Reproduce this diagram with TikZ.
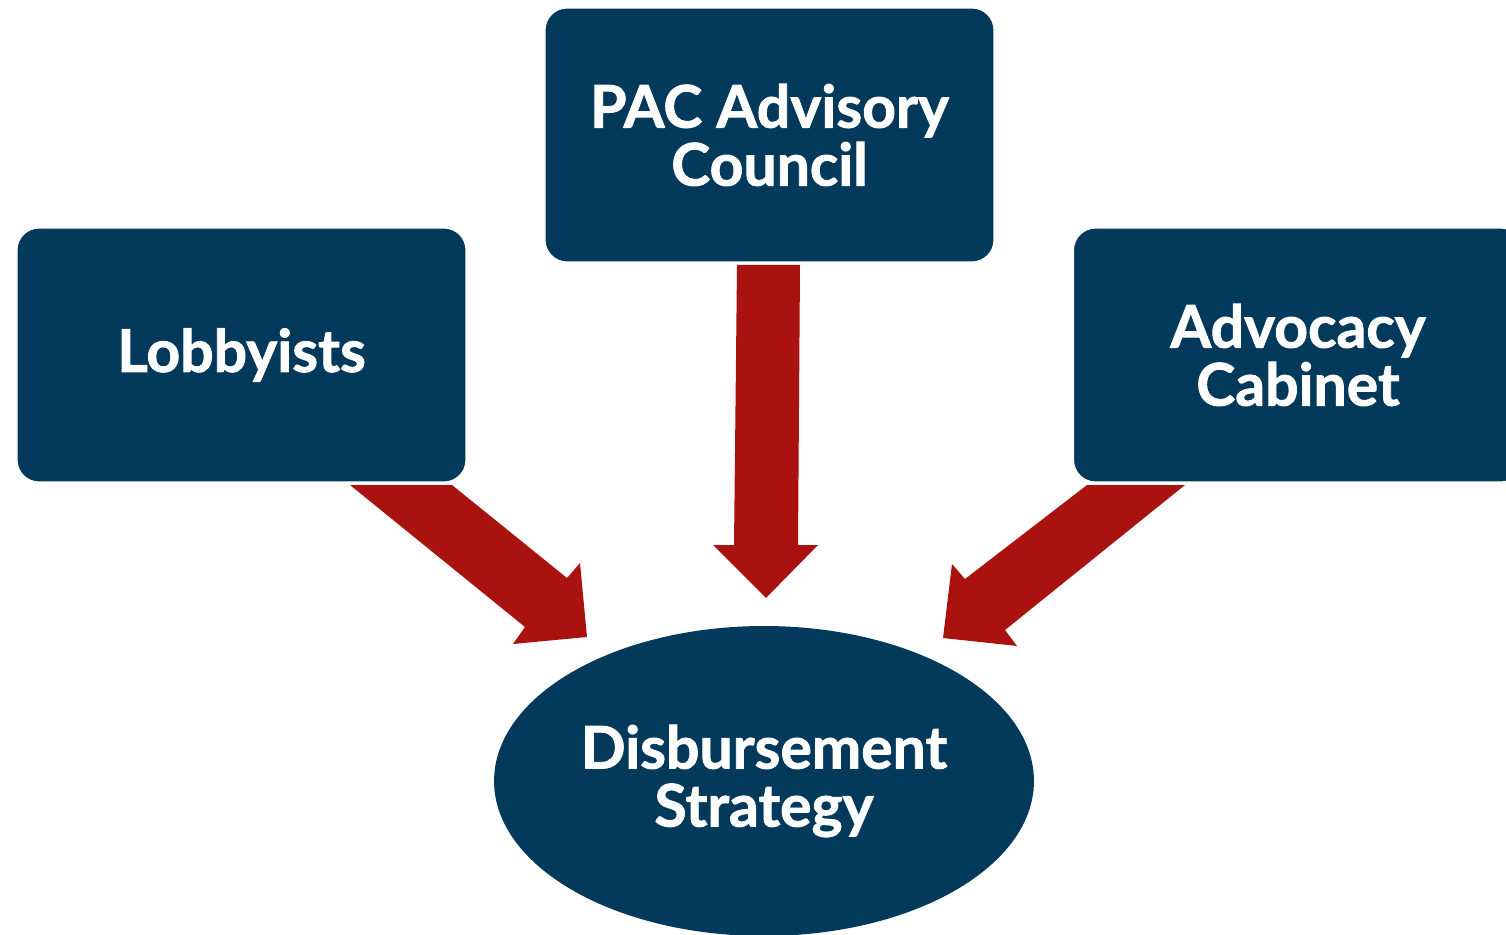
\documentclass[tikz,border=0pt]{standalone}
\usepackage{fontspec}
\setmainfont{Lato}[BoldFeatures={FakeBold=1.4}]
\usetikzlibrary{shapes.geometric}
\definecolor{navy}{RGB}{3,57,91}
\definecolor{arrowred}{RGB}{170,18,16}
\tikzset{
  box/.style={rectangle, rounded corners=0.44cm, fill=navy, draw=white, line width=0.6pt,
    minimum width=8.98cm, minimum height=5.08cm, text=white, align=center,
    font=\bfseries\fontsize{33.5}{33}\selectfont, inner sep=0pt},
  oval/.style={ellipse, fill=navy, draw=none, minimum width=10.8cm, minimum height=6.2cm,
    text=white, align=center, font=\bfseries\fontsize{33.5}{33}\selectfont, inner sep=0pt},
  blockarrow/.style={fill=arrowred, draw=none}
}
\begin{document}
\begin{tikzpicture}[x=0.02cm, y=-0.02cm]
\useasboundingbox (0,0) rectangle (1506,935);
\clip (0,0) rectangle (1506,935);
\node[box] (lob) at (241.5,355) {Lobbyists};
\node[box] (pac) at (769.5,135) {PAC Advisory\\Council};
\node[box] (adv) at (1298,355) {Advocacy\\Cabinet};
\node[oval] (dis) at (764,781) {Disbursement\\Strategy};
% block arrows
\fill[blockarrow] (350,485) -- (452,485) -- (567,578) -- (580,563) -- (587,637) -- (513,644) -- (525,627) -- cycle;
\fill[blockarrow] (737,265) -- (800,265) -- (798,545) -- (818,545) -- (766,598) -- (713,545) -- (734,545) -- cycle;
\fill[blockarrow] (1185,485) -- (1087,485) -- (965,579) -- (952,564) -- (943,638) -- (1017,646) -- (1005,630) -- cycle;
\end{tikzpicture}
\end{document}
